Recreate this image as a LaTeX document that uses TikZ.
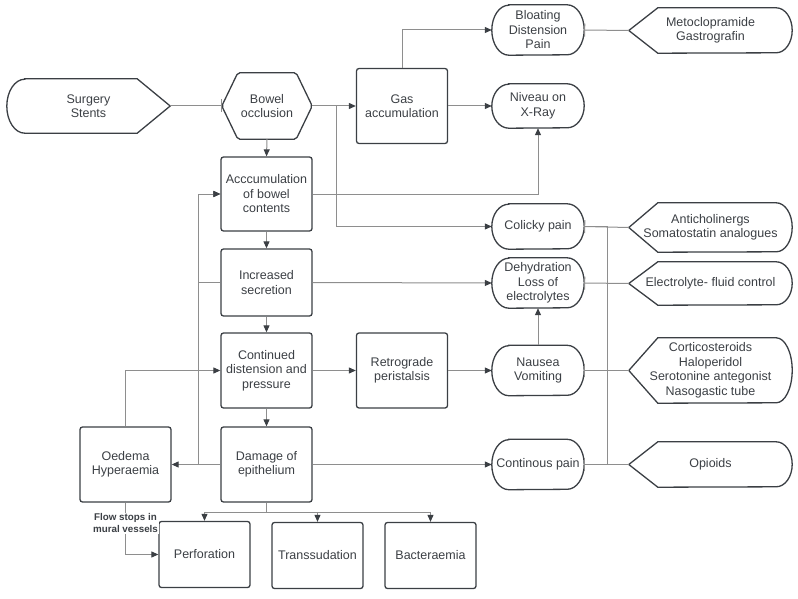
\documentclass[tikz,border=0pt]{standalone}
\usepackage{fontspec}
\setmainfont{Liberation Sans}
\usetikzlibrary{arrows.meta}
\definecolor{ink}{HTML}{3B3F44}
\definecolor{wire}{HTML}{8E8E8E}

\begin{document}
\begin{tikzpicture}[x=1pt,y=-1pt,
  every node/.style={font=\fontsize{12.5}{14.5}\selectfont,text=ink,align=center,inner sep=0pt},
  box/.style={draw=ink,line width=1.3pt,rounded corners=2.5pt,minimum width=91pt,minimum height=75pt},
  termbox/.style={minimum width=92pt,minimum height=48pt},
  drugbox/.style={minimum width=163pt,minimum height=45pt},
  rim/.style={draw=ink,line width=1.3pt},
  wireline/.style={draw=wire,line width=1pt},
  link/.style={wireline,-{Triangle[length=7pt,width=6pt,color=ink]}},
  teelink/.style={wireline,{Bar[width=13pt]}-}]
  \path[use as bounding box] (0,0) rectangle (798,599); % 画像全体の大きさ
  % 左側の原因と閉塞
  \node[minimum width=163pt,minimum height=54pt] (surg) at (88.5,106) {Surgery\\Stents}; % 原因
  \node[minimum width=90pt,minimum height=66pt] (occl) at (267,106) {Bowel\\occlusion}; % 六角形
  \node[box] (gas) at (402,106) {Gas\\accumulation}; % ガスの貯留
  % 中央の列
  \node[box,minimum height=74pt] (acc) at (266.5,194) {Acccumulation\\of bowel\\contents}; % 内容物の貯留
  \node[box,minimum height=67pt] (inc) at (266.5,282.5) {Increased\\secretion}; % 分泌の増加
  \node[box] (cont) at (266.5,370.5) {Continued\\distension and\\pressure}; % 拡張と圧
  \node[box] (dam) at (266.5,464.5) {Damage of\\epithelium}; % 上皮の障害
  \node[box] (retro) at (402,370.5) {Retrograde\\peristalsis}; % 逆蠕動
  \node[box] (oed) at (125.5,464.5) {Oedema\\Hyperaemia}; % 浮腫
  \node[box,minimum height=66pt] (perf) at (204.5,554.5) {Perforation}; % 穿孔
  \node[box,minimum height=66pt] (trans) at (317.5,555.5) {Transsudation}; % 漏出
  \node[box,minimum height=66pt] (bact) at (430.5,555.5) {Bacteraemia}; % 菌血症
  % 症状（角の丸い枠）
  \node[termbox,minimum height=50pt] (bloat) at (538,30) {Bloating\\Distension\\Pain};
  \node[termbox,minimum height=44pt] (nive) at (538,106) {Niveau on\\X-Ray};
  \node[termbox,minimum height=45pt] (colic) at (538,226.5) {Colicky pain};
  \node[termbox,minimum height=50pt] (dehy) at (538,283) {Dehydration\\Loss of\\electrolytes};
  \node[termbox,minimum height=50pt] (naus) at (538,370.5) {Nausea\\Vomiting};
  \node[termbox,minimum height=50pt] (cpain) at (538,464.5) {Continous pain};
  % 治療（右側）
  \node[drugbox] (meto) at (710.5,30.5) {Metoclopramide\\Gastrografin};
  \node[drugbox,minimum height=49pt] (anti) at (710.5,227.5) {Anticholinergs\\Somatostatin analogues};
  \node[drugbox,minimum height=43pt] (elec) at (710.5,283.5) {Electrolyte- fluid control};
  \node[drugbox,minimum height=65pt] (cort) at (710.5,370.5) {Corticosteroids\\Haloperidol\\Serotonine antegonist\\Nasogastic tube};
  \node[drugbox] (opio) at (710.5,464.5) {Opioids};
  % 枠線
  \draw[rim] ([xshift=18pt]surg.north west) -- ([xshift=-33pt]surg.north east) -- (surg.east)
    -- ([xshift=-33pt]surg.south east) -- ([xshift=18pt]surg.south west)
    arc[start angle=270,end angle=90,x radius=18pt,y radius=27pt] -- cycle; % 左が丸く右がとがった枠
  \draw[rim,rounded corners=2pt] (occl.west) -- ([xshift=16pt]occl.north west) -- ([xshift=-16pt]occl.north east)
    -- (occl.east) -- ([xshift=-16pt]occl.south east) -- ([xshift=16pt]occl.south west) -- cycle; % 六角形
  \foreach \nd/\hh in {bloat/25,nive/22,colic/22.5,dehy/25,naus/25,cpain/25}
    \draw[rim] ([xshift=17pt]\nd.north west) -- ([xshift=-17pt]\nd.north east)
      arc[start angle=90,end angle=-90,x radius=17pt,y radius=\hh pt] -- ([xshift=17pt]\nd.south west)
      arc[start angle=270,end angle=90,x radius=17pt,y radius=\hh pt] -- cycle; % 症状の枠
  \foreach \nd/\hh in {meto/22.5,anti/24.5,elec/21.5,cort/32.5,opio/22.5}
    \draw[rim] (\nd.west) -- ([xshift=29pt]\nd.north west) -- ([xshift=-16pt]\nd.north east)
      arc[start angle=90,end angle=-90,x radius=16pt,y radius=\hh pt] -- ([xshift=29pt]\nd.south west) -- cycle; % 治療の枠
  % 矢印
  \draw[teelink] (occl.west) -- (surg.east);
  \draw[link] (occl.east) -- (gas.west);
  \draw[link] (gas.north) |- (bloat.west);
  \draw[link] (gas.east) -- (nive.west);
  \draw[link] (occl.south) -- (acc.north);
  \draw[link] (acc.east) -| (nive.south);
  \draw[link] (occl.east) -- ++(24,0) |- (colic.west);
  \draw[link] (acc.south) -- (inc.north);
  \draw[link] (inc.south) -- (cont.north);
  \draw[link] (cont.south) -- (dam.north);
  \draw[link] (inc.east) -- (dehy.west);
  \draw[link] (inc.west) -- ++(-22,0) |- (acc.west); % 貯留へ戻る
  \draw[link] (dam.west) -- ++(-22,0) |- (acc.west);
  \draw[link] (dam.west) -- (oed.east);
  \draw[link] (cont.east) -- (retro.west);
  \draw[link] (retro.east) -- (naus.west);
  \draw[link] (naus.north) -- (dehy.south);
  \draw[link] (oed.north) |- (cont.west);
  \draw[link] (oed.south) |- (perf.west);
  \node[font=\bfseries\fontsize{9.8}{11.8}\selectfont,fill=white,inner sep=1pt] (flow) at (125.5,523) {Flow stops in\\mural vessels};
  \foreach \t in {perf,trans,bact}
    \draw[link] (dam.south) -- ++(0,10) -| (\t.north); % 下の三つへ
  \draw[link] (dam.east) -- (cpain.west);
  % 治療への線
  \foreach \a/\b in {bloat/meto,colic/anti,dehy/elec,naus/cort,cpain/opio}
    \draw[teelink] (\a.east) -- (\b.west);
  \draw[wireline] (colic.east) -- ++(23,0) |- (opio.west);
\end{tikzpicture}
\end{document}
